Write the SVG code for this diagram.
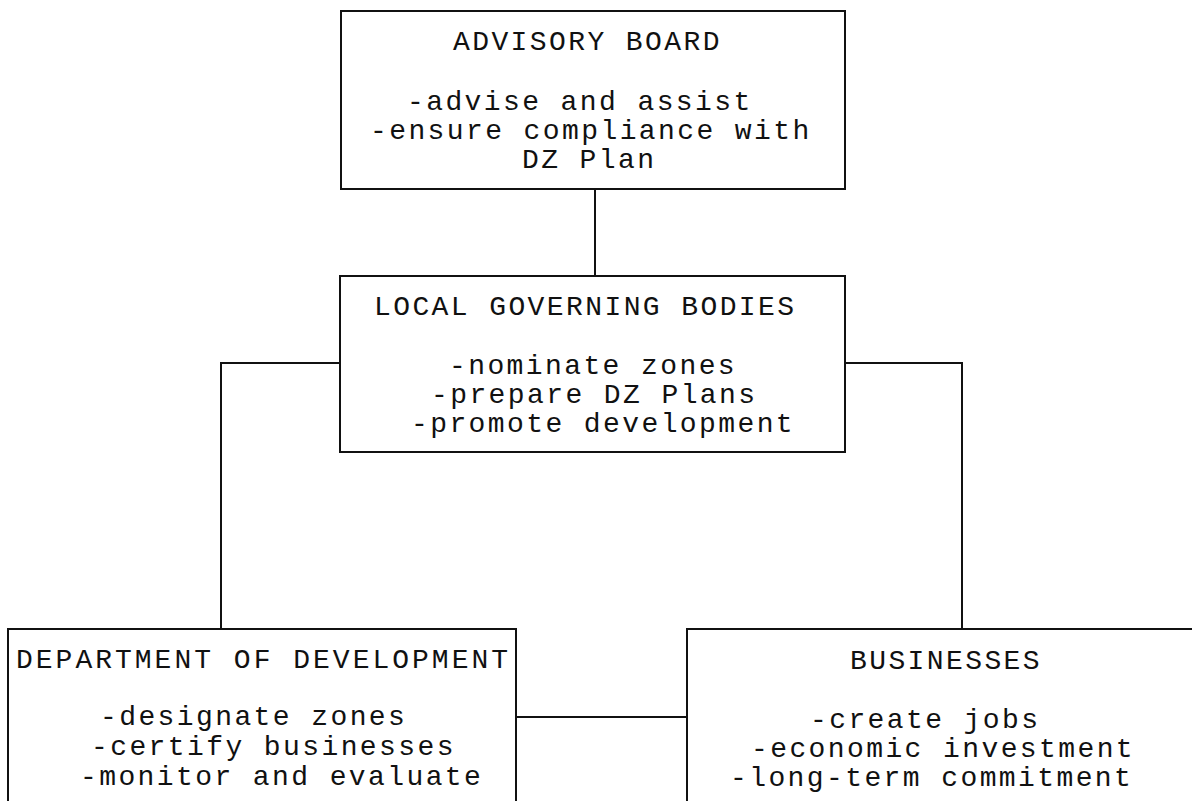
<svg xmlns="http://www.w3.org/2000/svg" width="1192" height="801" viewBox="0 0 1192 801">
<style>
.box{fill:#fff;stroke:#111;stroke-width:2}
.ln{fill:none;stroke:#111;stroke-width:2}
text{font-family:"Liberation Mono","Courier New",monospace;font-size:28px;letter-spacing:2.4px;fill:#111}
</style>
<rect width="1192" height="801" fill="#fff"/>
<g id="connectors">
<path class="ln" d="M595 189V276"/>
<path class="ln" d="M340 363H221V629"/>
<path class="ln" d="M845 363H962V629"/>
<path class="ln" d="M516 717H687"/>
</g>
<g id="advisory-board">
<rect class="box" x="341" y="11" width="504" height="178"/>
<text x="453" y="50">ADVISORY BOARD</text>
<text x="407" y="110">-advise and assist</text>
<text x="370" y="139">-ensure compliance with</text>
<text x="522" y="168">DZ Plan</text>
</g>
<g id="local-governing-bodies">
<rect class="box" x="340" y="276" width="505" height="176"/>
<text x="374" y="315">LOCAL GOVERNING BODIES</text>
<text x="449" y="374">-nominate zones</text>
<text x="431" y="403">-prepare DZ Plans</text>
<text x="411" y="432">-promote development</text>
</g>
<g id="department-of-development">
<rect class="box" x="8" y="629" width="508" height="190"/>
<text x="16" y="668" style="letter-spacing:3px">DEPARTMENT OF DEVELOPMENT</text>
<text x="100" y="725">-designate zones</text>
<text x="91" y="755">-certify businesses</text>
<text x="80" y="785">-monitor and evaluate</text>
</g>
<g id="businesses">
<rect class="box" x="687" y="629" width="520" height="190"/>
<text x="850" y="669">BUSINESSES</text>
<text x="810" y="728">-create jobs</text>
<text x="751" y="757">-economic investment</text>
<text x="730" y="786">-long-term commitment</text>
</g>
</svg>
